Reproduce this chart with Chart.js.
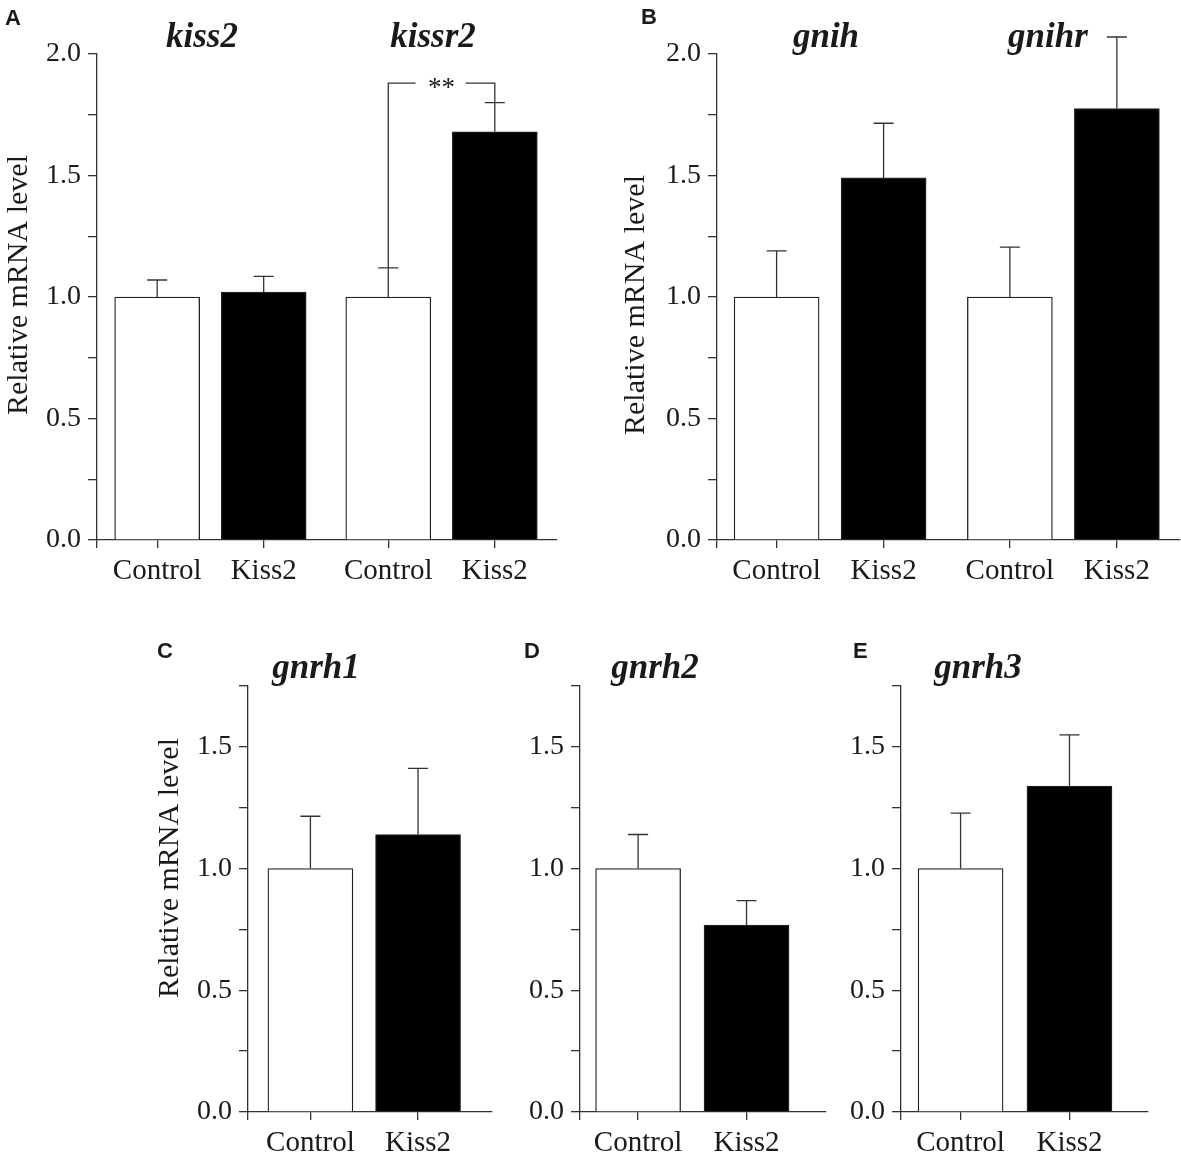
<!DOCTYPE html>
<html>
<head>
<meta charset="utf-8">
<script src="https://cdn.jsdelivr.net/npm/chart.js@4.4.1/dist/chart.umd.min.js"></script>
<style>
  body { margin: 0; background: #fff; width: 1181px; height: 1163px; position: relative; overflow: hidden; }
  canvas { position: absolute; }
</style>
</head>
<body>
<canvas id="panelA"></canvas>
<canvas id="panelB"></canvas>
<canvas id="panelC"></canvas>
<canvas id="panelD"></canvas>
<canvas id="panelE"></canvas>
<script>
// ---- data ----
const groups = ['Control', 'Kiss2'];
const yTickLabels = ['0.0', '0.5', '1.0', '1.5', '2.0'];
const yTitle = 'Relative mRNA level';

const genesA = ['kiss2', 'kissr2'];
const meanA = [1.00, 1.02, 1.00, 1.68];
const semA = [0.07, 0.065, 0.12, 0.12];
const sigA = { from: 2, to: 3, mark: '**', level: 1.88 };

const genesB = ['gnih', 'gnihr'];
const meanB = [1.00, 1.49, 1.00, 1.775];
const semB = [0.19, 0.225, 0.205, 0.295];

const geneC = 'gnrh1';
const meanC = [1.00, 1.14];
const semC = [0.215, 0.272];

const geneD = 'gnrh2';
const meanD = [1.00, 0.768];
const semD = [0.14, 0.10];

const geneE = 'gnrh3';
const meanE = [1.00, 1.339];
const semE = [0.228, 0.21];

// ---- styling ----
const SERIF = '"Liberation Serif", "Times New Roman", serif';
const INK = '#1a1a1a';
const LINE = '#333';
const LW = 1.3;
const CAP = 10;
const fills = ['#ffffff', '#000000'];

// box = [left, top, width, height] of the canvas in page px
const panels = [
  { id: 'panelA', letter: 'A', box: [0, 0, 580, 600], axisW: 97, padTop: 54, padRight: 23, xAxisH: 60,
    yMax: 2, xRange: [-0.565, 3.754], gap: 0.17, genes: genesA, mean: meanA, sem: semA, sig: sigA,
    letterAt: [5, 25], yTitleAt: [19, 285], titlesAt: [[202, 47], [433, 47]] },
  { id: 'panelB', letter: 'B', box: [600, 0, 581, 600], axisW: 117, padTop: 54, padRight: 1, xAxisH: 60,
    yMax: 2, xRange: [-0.557, 3.770], gap: 0.18, genes: genesB, mean: meanB, sem: semB,
    letterAt: [641, 24], yTitleAt: [636, 305], titlesAt: [[826, 47], [1048, 47]] },
  { id: 'panelC', letter: 'C', box: [140, 620, 370, 543], axisW: 108, padTop: 66, padRight: 18, xAxisH: 51,
    yMax: 1.75, xRange: [-0.58, 1.687], gap: 0, genes: [geneC], mean: meanC, sem: semC,
    letterAt: [157, 658], yTitleAt: [170, 868], titlesAt: [[316, 678]] },
  { id: 'panelD', letter: 'D', box: [510, 620, 330, 543], axisW: 70, padTop: 66, padRight: 14, xAxisH: 51,
    yMax: 1.75, xRange: [-0.536, 1.733], gap: 0, genes: [geneD], mean: meanD, sem: semD,
    letterAt: [524, 658], titlesAt: [[655, 678]] },
  { id: 'panelE', letter: 'E', box: [840, 620, 330, 543], axisW: 61, padTop: 66, padRight: 22, xAxisH: 51,
    yMax: 1.75, xRange: [-0.547, 1.721], gap: 0, genes: [geneE], mean: meanE, sem: semE,
    letterAt: [853, 658], titlesAt: [[978, 678]] }
];

function makePanel(cfg) {
  const cv = document.getElementById(cfg.id);
  const [bx, by, bw, bh] = cfg.box;
  cv.width = bw; cv.height = bh;
  cv.style.left = bx + 'px'; cv.style.top = by + 'px';

  // bar positions: pairs of Control/Kiss2 per gene, with a small extra gap between genes
  const xPos = cfg.mean.map((_, i) => i + Math.floor(i / 2) * cfg.gap);
  const xLabels = cfg.mean.map((_, i) => groups[i % 2]);

  const annotate = {
    id: 'annotate',
    afterDraw(chart) {
      const ctx = chart.ctx;
      const ys = chart.scales.y;
      const meta = chart.getDatasetMeta(0);
      ctx.save();
      ctx.strokeStyle = LINE;
      ctx.lineWidth = LW;

      // error bars (upper only)
      meta.data.forEach((bar, i) => {
        const top = ys.getPixelForValue(cfg.mean[i] + cfg.sem[i]);
        ctx.beginPath();
        ctx.moveTo(bar.x, bar.y);
        ctx.lineTo(bar.x, top);
        ctx.moveTo(bar.x - CAP, top);
        ctx.lineTo(bar.x + CAP, top);
        ctx.stroke();
      });

      // significance bracket
      if (cfg.sig) {
        const s = cfg.sig;
        const a = meta.data[s.from], b = meta.data[s.to];
        const yl = ys.getPixelForValue(s.level);
        const ya = ys.getPixelForValue(cfg.mean[s.from] + cfg.sem[s.from]);
        const yb = ys.getPixelForValue(cfg.mean[s.to] + cfg.sem[s.to]);
        const mid = (a.x + b.x) / 2;
        ctx.beginPath();
        ctx.moveTo(a.x, ya); ctx.lineTo(a.x, yl); ctx.lineTo(mid - 26, yl);
        ctx.moveTo(mid + 24, yl); ctx.lineTo(b.x, yl); ctx.lineTo(b.x, yb);
        ctx.stroke();
        ctx.fillStyle = INK;
        ctx.font = '27px ' + SERIF;
        ctx.textAlign = 'center';
        ctx.textBaseline = 'alphabetic';
        ctx.fillText(s.mark, mid, yl + 13);
      }

      // panel letter
      ctx.fillStyle = INK;
      ctx.textAlign = 'left';
      ctx.textBaseline = 'alphabetic';
      ctx.font = 'bold 22px "Liberation Sans", Arial, sans-serif';
      ctx.fillText(cfg.letter, cfg.letterAt[0] - bx, cfg.letterAt[1] - by);

      // gene titles
      ctx.textAlign = 'center';
      ctx.font = 'italic bold 35px ' + SERIF;
      cfg.genes.forEach((g, i) => {
        ctx.fillText(g, cfg.titlesAt[i][0] - bx, cfg.titlesAt[i][1] - by);
      });

      // y axis title
      if (cfg.yTitleAt) {
        ctx.save();
        ctx.translate(cfg.yTitleAt[0] - bx, cfg.yTitleAt[1] - by);
        ctx.rotate(-Math.PI / 2);
        ctx.textBaseline = 'middle';
        ctx.font = '30px ' + SERIF;
        ctx.fillText(yTitle, 0, 0);
        ctx.restore();
      }
      ctx.restore();
    }
  };

  return new Chart(cv, {
    type: 'bar',
    data: {
      datasets: [{
        data: cfg.mean.map((v, i) => ({ x: xPos[i], y: v })),
        backgroundColor: cfg.mean.map((_, i) => fills[i % 2]),
        borderColor: '#222',
        borderWidth: LW,
        barThickness: 85
      }]
    },
    options: {
      responsive: false,
      animation: false,
      layout: { padding: { top: cfg.padTop, right: cfg.padRight, left: 0, bottom: 0 } },
      plugins: { legend: { display: false }, tooltip: { enabled: false } },
      scales: {
        x: {
          type: 'linear',
          min: cfg.xRange[0],
          max: cfg.xRange[1],
          offset: false,
          afterBuildTicks: s => { s.ticks = [cfg.xRange[0], ...xPos].map(v => ({ value: v })); },
          afterFit: s => { s.height = cfg.xAxisH; },
          ticks: {
            autoSkip: false, maxRotation: 0, padding: 6,
            color: INK, font: { family: SERIF, size: 29 },
            callback: (v, i) => (i === 0 ? '' : xLabels[i - 1])
          },
          grid: { offset: false, drawOnChartArea: false, tickLength: 8, color: LINE, lineWidth: LW },
          border: { display: true, color: LINE, width: LW }
        },
        y: {
          min: 0,
          max: cfg.yMax,
          afterFit: s => { s.width = cfg.axisW; },
          ticks: {
            stepSize: 0.25, padding: 7,
            color: INK, font: { family: SERIF, size: 28 },
            callback: v => {
              const k = v / 0.5;
              return Math.abs(k - Math.round(k)) < 1e-6 ? yTickLabels[Math.round(k)] : '';
            }
          },
          grid: { drawOnChartArea: false, tickLength: 9, color: LINE, lineWidth: LW },
          border: { display: true, color: LINE, width: LW }
        }
      }
    },
    plugins: [annotate]
  });
}

panels.forEach(makePanel);
</script>
</body>
</html>
